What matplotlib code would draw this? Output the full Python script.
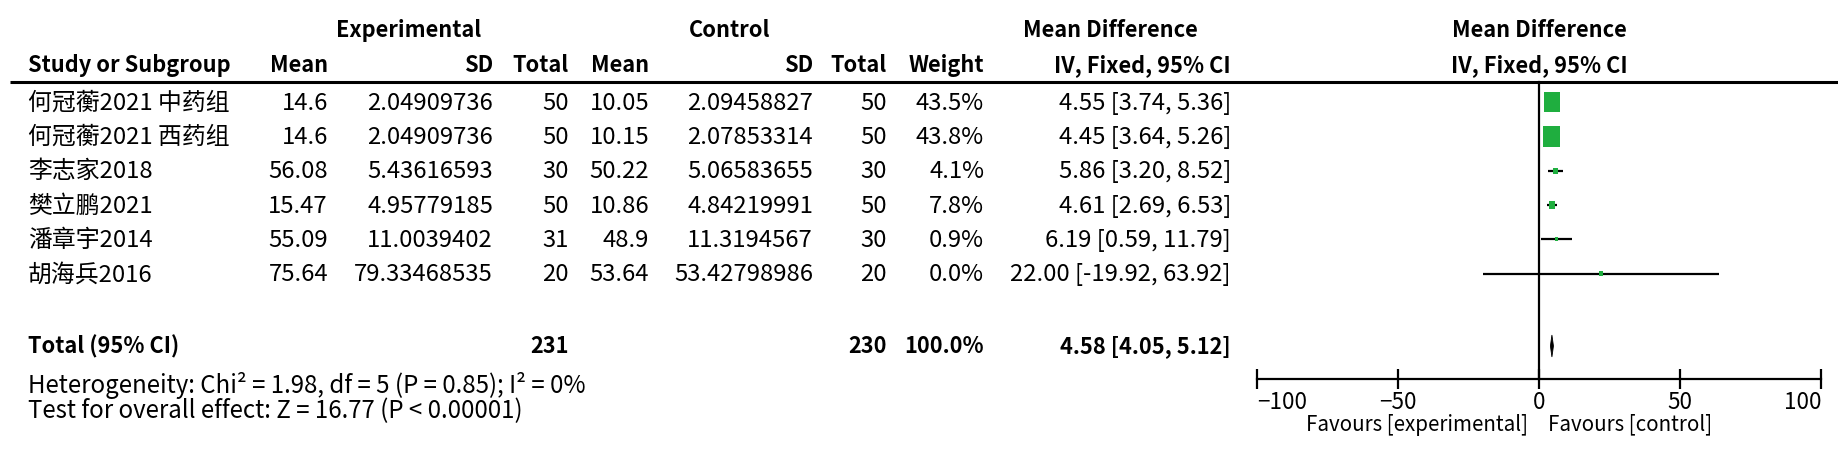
import numpy as np
import matplotlib
matplotlib.use("Agg")
import matplotlib.pyplot as plt
from matplotlib.patches import Rectangle, Polygon

plt.rcParams['font.family'] = ['Noto Sans CJK SC', 'DejaVu Sans']

# data
studies = ['何冠蘅2021 中药组', '何冠蘅2021 西药组', '李志家2018', '樊立鹏2021', '潘章宇2014', '胡海兵2016']
exp_mean = [14.6, 14.6, 56.08, 15.47, 55.09, 75.64]
exp_sd = [2.04909736, 2.04909736, 5.43616593, 4.95779185, 11.0039402, 79.33468535]
exp_n = [50, 50, 30, 50, 31, 20]
ctrl_mean = [10.05, 10.15, 50.22, 10.86, 48.9, 53.64]
ctrl_sd = [2.09458827, 2.07853314, 5.06583655, 4.84219991, 11.3194567, 53.42798986]
ctrl_n = [50, 50, 30, 50, 30, 20]
weight = [43.5, 43.8, 4.1, 7.8, 0.9, 0.0]
md = [4.55, 4.45, 5.86, 4.61, 6.19, 22.00]
ci_lo = [3.74, 3.64, 3.20, 2.69, 0.59, -19.92]
ci_hi = [5.36, 5.26, 8.52, 6.53, 11.79, 63.92]

tot_exp_n = 231
tot_ctrl_n = 230
tot_md, tot_lo, tot_hi = 4.58, 4.05, 5.12
heterogeneity = 'Heterogeneity: Chi² = 1.98, df = 5 (P = 0.85); I² = 0%'
overall = 'Test for overall effect: Z = 16.77 (P < 0.00001)'
xticks = [-100, -50, 0, 50, 100]

W, H = 1838, 459
fig = plt.figure(figsize=(W / 100, H / 100), dpi=100)
renderer = fig.canvas.get_renderer()


def fit_size(text, target, weight='normal'):
    """font size (pt) that makes text about target pixels wide"""
    t = fig.text(0, 0, text, fontsize=20, fontweight=weight)
    w = t.get_window_extent(renderer=renderer).width
    t.remove()
    return 20.0 * target / w


fs_bold = fit_size('Study or Subgroup', 202, 'bold')
fs_reg = fit_size('4.55 [3.74, 5.36]', 172)
fs_het = fit_size(heterogeneity, 559)
fs_fav = fit_size('Favours [control]', 164)
fs_tick = fit_size('50', 25)


def base(y, fs):
    # baseline so that the cap height is centred on y
    return y + 0.33 * fs * 100 / 72.0


# table part, in pixel coordinates
tab = fig.add_axes([0, 0, 1, 1])
tab.set_xlim(0, W)
tab.set_ylim(H, 0)
tab.axis('off')

green = '#1fae3f'
row_y0, row_dy = 102, 34.3
total_y = 346

# column right edges
c_name = 28
c_em, c_esd, c_en = 328, 493, 569
c_cm, c_csd, c_cn = 649, 813, 887
c_w, c_ci = 984, 1231

hdr = dict(fontsize=fs_bold, fontweight='bold', va='baseline')
tab.text(409, base(30, fs_bold), 'Experimental', ha='center', **hdr)
tab.text(730, base(30, fs_bold), 'Control', ha='center', **hdr)
tab.text(1110, base(30, fs_bold), 'Mean Difference', ha='center', **hdr)
tab.text(1539, base(30, fs_bold), 'Mean Difference', ha='center', **hdr)
tab.text(c_name, base(65, fs_bold), 'Study or Subgroup', ha='left', **hdr)
for x, s in [(c_em, 'Mean'), (c_esd, 'SD'), (c_en, 'Total'), (c_cm, 'Mean'),
             (c_csd, 'SD'), (c_cn, 'Total'), (c_w, 'Weight'), (c_ci, 'IV, Fixed, 95% CI')]:
    tab.text(x, base(65, fs_bold), s, ha='right', **hdr)
tab.text(1539, base(65, fs_bold), 'IV, Fixed, 95% CI', ha='center', **hdr)
tab.plot([10, W], [82, 82], color='black', lw=2.2, solid_capstyle='butt')

for i in range(len(studies)):
    y = base(row_y0 + i * row_dy, fs_reg)
    kw = dict(fontsize=fs_reg, va='baseline')
    tab.text(c_name, y, studies[i], ha='left', **kw)
    tab.text(c_em, y, str(exp_mean[i]), ha='right', **kw)
    tab.text(c_esd, y, str(exp_sd[i]), ha='right', **kw)
    tab.text(c_en, y, str(exp_n[i]), ha='right', **kw)
    tab.text(c_cm, y, str(ctrl_mean[i]), ha='right', **kw)
    tab.text(c_csd, y, str(ctrl_sd[i]), ha='right', **kw)
    tab.text(c_cn, y, str(ctrl_n[i]), ha='right', **kw)
    tab.text(c_w, y, '%.1f%%' % weight[i], ha='right', **kw)
    tab.text(c_ci, y, '%.2f [%.2f, %.2f]' % (md[i], ci_lo[i], ci_hi[i]), ha='right', **kw)

tk = dict(fontsize=fs_bold, fontweight='bold', va='baseline')
ty = base(total_y, fs_bold)
tab.text(c_name, ty, 'Total (95% CI)', ha='left', **tk)
tab.text(c_en, ty, str(tot_exp_n), ha='right', **tk)
tab.text(c_cn, ty, str(tot_ctrl_n), ha='right', **tk)
tab.text(c_w, ty, '100.0%', ha='right', **tk)
tab.text(c_ci, ty, '%.2f [%.2f, %.2f]' % (tot_md, tot_lo, tot_hi), ha='right', **tk)
tab.text(c_name, base(385, fs_het), heterogeneity, ha='left', va='baseline', fontsize=fs_het)
tab.text(c_name, base(410, fs_het), overall, ha='left', va='baseline', fontsize=fs_het)

# forest part
ax = fig.add_axes([1257 / W, 0, 564 / W, 1])
ax.set_xlim(-100, 100)
ax.set_ylim(H, 0)
ax.patch.set_alpha(0)
for s in ['top', 'left', 'right']:
    ax.spines[s].set_visible(False)
ax.spines['bottom'].set_position(('data', 379))
ax.spines['bottom'].set_linewidth(1.6)
ax.set_yticks([])
ax.set_xticks(xticks)
ax.tick_params(axis='x', direction='inout', length=14, width=1.6, labelbottom=False)
for k, v in enumerate(xticks):
    ha = 'left' if k == 0 else ('right' if k == len(xticks) - 1 else 'center')
    ax.text(v, base(402, fs_tick), '%d' % v if v >= 0 else '\u2212%d' % -v,
            ha=ha, va='baseline', fontsize=fs_tick)

px = 564 / 200.0   # pixels per unit
ax.plot([0, 0], [82, 379], color='black', lw=1.6)
for i in range(len(studies)):
    y = row_y0 + i * row_dy
    ax.plot([ci_lo[i], ci_hi[i]], [y, y], color='black', lw=1.6, solid_capstyle='butt')
    side = max(2.45 * np.sqrt(weight[i]), 3.5)
    ax.add_patch(Rectangle((md[i] - side / 2 / px, y - side * 0.62), side / px, side * 1.25,
                           facecolor=green, edgecolor='none', zorder=3))

ax.add_patch(Polygon([[tot_lo, total_y], [tot_md, total_y - 11], [tot_hi, total_y], [tot_md, total_y + 11]],
                     closed=True, facecolor='black', edgecolor='black', lw=0.6))

ax.text(-4, base(424, fs_fav), 'Favours [experimental]', ha='right', va='baseline', fontsize=fs_fav)
ax.text(3.2, base(424, fs_fav), 'Favours [control]', ha='left', va='baseline', fontsize=fs_fav)

fig.savefig('out.png', dpi=100)
